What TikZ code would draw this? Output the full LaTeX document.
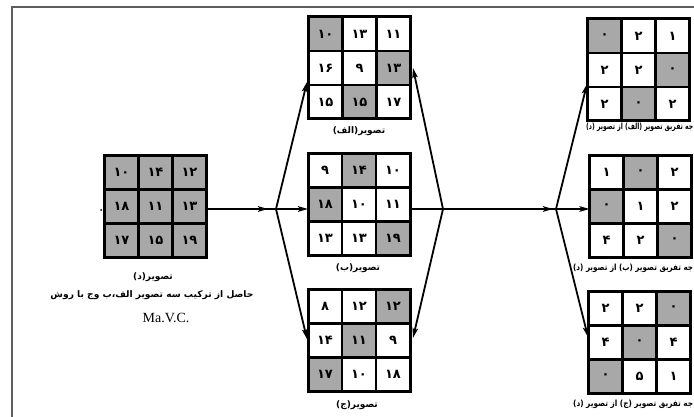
\documentclass[tikz,border=0pt]{standalone}
\usepackage{fontspec}
\usepackage{graphicx}
\setmainfont{Liberation Serif}
\newfontfamily\arabicfont[Script=Arabic]{DejaVu Sans}
\TeXXeTstate=1
\usetikzlibrary{arrows.meta,calc}
\definecolor{G}{RGB}{168,168,168}
\definecolor{W}{RGB}{255,255,255}
\definecolor{framegray}{RGB}{95,95,95}
\tikzset{
  gridbox/.style={minimum width=102pt, minimum height=102pt, inner sep=0pt, outer sep=0pt},
  cellbox/.style={draw=black, line width=2.2pt, minimum size=34pt, inner sep=0pt, font=\arabicfont\bfseries\fontsize{13}{15}\selectfont},
  outerbox/.style={draw=black, line width=3pt},
  conn/.style={line width=1.8pt, line cap=round},
  arr/.style={line width=1.8pt, -{Stealth[length=10pt,width=5.5pt,inset=2pt]}},
  lbl/.style={font=\arabicfont\bfseries\fontsize{9}{11}\selectfont, inner sep=0pt},
  rlbl/.style={font=\arabicfont\bfseries\fontsize{8.5}{10}\selectfont, inner sep=0pt, anchor=west},
}
\newcommand\cellgrid[4]{%
  \node[gridbox] (#1) at (#2,#3) {};
  \foreach \cv/\cf [count=\ci from 0] in {#4} {
    \pgfmathtruncatemacro\rr{floor(\ci/3)}
    \pgfmathtruncatemacro\cc{mod(\ci,3)}
    \node[cellbox, fill=\cf] (#1-\ci) at ($(#1.north west)+(\cc*34+17,\rr*34+17)$) {\cv};
  }
  \draw[outerbox] (#1.north west) rectangle (#1.south east);
}
\begin{document}
\begin{tikzpicture}[x=1pt,y=-1pt]
\useasboundingbox (0,0) rectangle (694,417);
\clip (0,0) rectangle (694,417);
\draw[framegray, line width=2pt] (12,417) -- (12,7) -- (694,7);

\cellgrid{D}{155.5}{206.5}{۱۰/G,۱۴/G,۱۲/G,۱۸/G,۱۱/G,۱۳/G,۱۷/G,۱۵/G,۱۹/G}
\cellgrid{A}{359.5}{68}{۱۰/G,۱۳/W,۱۱/W,۱۶/W,۹/W,۱۳/G,۱۵/W,۱۵/G,۱۷/W}
\cellgrid{B}{359}{204.5}{۹/W,۱۴/G,۱۰/W,۱۸/G,۱۰/W,۱۱/W,۱۳/W,۱۳/W,۱۹/G}
\cellgrid{C}{359}{340.5}{۸/W,۱۲/W,۱۲/G,۱۴/W,۱۱/G,۹/W,۱۷/G,۱۰/W,۱۸/W}
\cellgrid{R1}{638.5}{70}{۰/G,۲/W,۱/W,۲/W,۲/W,۰/G,۲/W,۰/G,۲/W}
\cellgrid{R2}{640.5}{206.5}{۱/W,۰/G,۲/W,۰/G,۱/W,۲/W,۴/W,۲/W,۰/G}
\cellgrid{R3}{639.5}{342.5}{۲/W,۲/W,۰/G,۴/W,۰/G,۴/W,۰/G,۵/W,۱/W}

\fill (101,210) circle (1pt);

\coordinate (J1) at (276,209);
\coordinate (J2) at (443,209);
\coordinate (J3) at (556,209);
\coordinate (tD) at (268,209);
\coordinate (tA1) at (307,82);
\coordinate (tA2) at (413,68);
\coordinate (tC1) at (307,339);
\coordinate (tC2) at (413,338);
\coordinate (tJ3) at (553,209);
\coordinate (tR1) at (587,84);
\coordinate (tR3) at (588,337);

\draw[conn] (D.east |- J1) -- (J1);
\draw[arr] (D.east |- J1) -- (tD);
\draw[arr] (J1) -- (tA1);
\draw[arr] (J1) -- (B.west |- J1);
\draw[arr] (J1) -- (tC1);
\draw[conn] (B.east |- J2) -- (J2);
\draw[arr] (J2) -- (tA2);
\draw[arr] (J2) -- (tC2);
\draw[conn] (J2) -- (J3);
\draw[arr] (J2) -- (tJ3);
\draw[arr] (J3) -- (tR1);
\draw[arr] (J3) -- (R2.west |- J3);
\draw[arr] (J3) -- (tR3);

\node[lbl] (capA) at (359,131) {\beginR تصویر(الف)\endR};
\node[lbl] (capB) at (358,268) {\beginR تصویر(ب)\endR};
\node[lbl] (capC) at (357,405) {\beginR تصویر(ج)\endR};
\node[lbl] (capD) at (153,277) {\beginR تصویر(د)\endR};
\node[lbl] (capD2) at (152,295) {\resizebox{203pt}{\height}{\beginR حاصل از ترکیب سه تصویر الف،ب وج با روش\endR}};
\node[font=\fontsize{14}{16}\selectfont, inner sep=0pt] (capD3) at (166,318) {Ma.V.C.};
\node[rlbl] (capR1) at (586,127) {\resizebox{107pt}{\height}{\beginR جه تفریق تصویر (الف) از تصویر (د)\endR}};
\node[rlbl] (capR2) at (573,268) {\resizebox{120pt}{\height}{\beginR جه تفریق تصویر (ب) از تصویر (د)\endR}};
\node[rlbl] (capR3) at (573,404) {\resizebox{120pt}{\height}{\beginR جه تفریق تصویر (ج) از تصویر (د)\endR}};
\end{tikzpicture}
\end{document}
